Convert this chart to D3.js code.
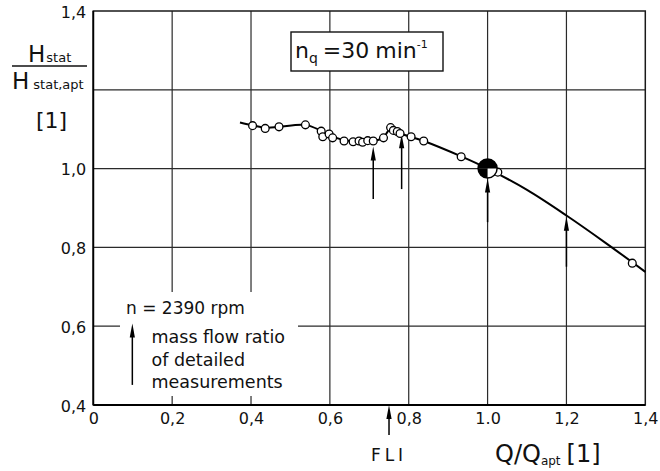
<!DOCTYPE html>
<html><head><meta charset="utf-8">
<script src="https://cdn.jsdelivr.net/npm/d3@7"></script>
<style>
html,body{margin:0;padding:0;background:#fff;}
svg{display:block;font-family:"DejaVu Sans",sans-serif;}
</style></head><body>
<svg id="chart" width="660" height="471"></svg>
<script>
// ---- data ----
const measuredQ = [0.404,0.436,0.471,0.538,0.578,0.582,0.598,0.607,0.636,0.659,0.674,0.683,0.696,0.710,0.736,0.754,0.761,0.771,0.778,0.806,0.838,0.933,1.026,1.367];
const measuredH = [1.109,1.102,1.106,1.111,1.095,1.081,1.088,1.078,1.070,1.068,1.070,1.067,1.071,1.070,1.078,1.104,1.097,1.094,1.089,1.081,1.070,1.030,0.991,0.760];
const curveQ = [0.372,0.404,0.44,0.471,0.538,0.58,0.61,0.65,0.70,0.735,0.752,0.765,0.78,0.838,0.933,1.0,1.1,1.2,1.3,1.4];
const curveH = [1.117,1.110,1.104,1.106,1.111,1.095,1.080,1.070,1.069,1.078,1.100,1.097,1.089,1.070,1.031,1.0,0.946,0.881,0.811,0.738];
const optimumQ = [1.0];
const optimumH = [1.0];
const arrowQ = [0.710, 0.782, 1.0, 1.2];
const arrowTipH = [1.056, 1.087, 0.975, 0.878];
const arrowTailH = [0.923, 0.948, 0.864, 0.751];
const fliQ = 0.750, fliTipH = 0.4, fliTailH = 0.324;
const legendArrowQ = 0.099, legendTipH = 0.607, legendTailH = 0.451;
const xTicks = [0,0.2,0.4,0.6,0.8,1.0,1.2,1.4];
const xTickLabels = ["0","0,2","0,4","0,6","0,8","1.0","1,2","1,4"];
const yTicks = [0.4,0.6,0.8,1.0,1.2,1.4];
const yTickLabels = ["0,4","0,6","0,8","1,0","","1,4"];

// ---- scales ----
const svg = d3.select("#chart");
const x = d3.scaleLinear().domain([0,1.4]).range([93.3,645.3]);
const y = d3.scaleLinear().domain([0.4,1.4]).range([405,11]);

// grid
const grid = svg.append("g").attr("stroke","#2a2a2a").attr("stroke-width",1.2);
grid.selectAll("line.v").data(xTicks.slice(1,-1)).join("line")
  .attr("x1",d=>x(d)).attr("x2",d=>x(d)).attr("y1",y(0.4)).attr("y2",y(1.4));
grid.selectAll("line.h").data(yTicks.slice(1,-1)).join("line")
  .attr("x1",x(0)).attr("x2",x(1.4)).attr("y1",d=>y(d)).attr("y2",d=>y(d));
// frame
svg.append("rect").attr("x",x(0)).attr("y",y(1.4)).attr("width",x(1.4)-x(0)).attr("height",y(0.4)-y(1.4))
  .attr("fill","none").attr("stroke","#1a1a1a").attr("stroke-width",1.5);
svg.append("line").attr("x1",x(0)).attr("x2",x(1.4)).attr("y1",y(0.4)).attr("y2",y(0.4)).attr("stroke","#000").attr("stroke-width",2);
svg.append("line").attr("x1",x(0)).attr("x2",x(0)).attr("y1",y(0.4)).attr("y2",y(1.4)).attr("stroke","#000").attr("stroke-width",1.8);

// legend mask (white area behind legend text)
svg.append("rect").attr("x",120).attr("y",292).attr("width",178).attr("height",104).attr("fill","#fff");

// axes labels via d3 axes
const xAxis = d3.axisBottom(x).tickValues(xTicks).tickFormat((d,i)=>xTickLabels[i]).tickSize(0).tickPadding(7.5);
const gx = svg.append("g").attr("transform",`translate(0,${y(0.4)})`).call(xAxis);
gx.select(".domain").remove();
gx.selectAll("text").attr("font-size",16).attr("font-family","DejaVu Sans").attr("fill","#111");
const yAxis = d3.axisLeft(y).tickValues(yTicks).tickFormat((d,i)=>yTickLabels[i]).tickSize(0).tickPadding(7);
const gy = svg.append("g").attr("transform",`translate(${x(0)},0)`).call(yAxis);
gy.select(".domain").remove();
gy.selectAll("text").attr("font-size",16).attr("font-family","DejaVu Sans").attr("fill","#111").attr("dy","0.38em");

// curve
const line = d3.line().x((d,i)=>x(curveQ[i])).y((d,i)=>y(curveH[i])).curve(d3.curveCatmullRom.alpha(0.5));
svg.append("path").attr("d",line(curveQ)).attr("fill","none").attr("stroke","#000").attr("stroke-width",2);

// arrows
function arrow(q, tipH, tailH){
  const px = x(q), ty = y(tipH), by = y(tailH);
  const hl = 14, hw = 2.6;
  svg.append("line").attr("x1",px).attr("x2",px).attr("y1",ty+hl-2).attr("y2",by).attr("stroke","#000").attr("stroke-width",1.5);
  svg.append("path").attr("d",`M${px},${ty} L${px+hw},${ty+hl} L${px-hw},${ty+hl} Z`).attr("fill","#000");
}
arrowQ.forEach((q,i)=>arrow(q,arrowTipH[i],arrowTailH[i]));
arrow(fliQ,fliTipH,fliTailH);
arrow(legendArrowQ,legendTipH,legendTailH);

// measured points
svg.append("g").selectAll("circle").data(measuredQ).join("circle")
  .attr("cx",d=>x(d)).attr("cy",(d,i)=>y(measuredH[i])).attr("r",3.9)
  .attr("fill","#fff").attr("stroke","#000").attr("stroke-width",1.3);

// optimum point symbol
optimumQ.forEach((q,i)=>{
  const cx = x(q), cy = y(optimumH[i]), r = 9.5;
  const g = svg.append("g").attr("transform",`translate(${cx},${cy})`);
  g.append("circle").attr("r",r).attr("fill","#fff").attr("stroke","#000").attr("stroke-width",1.5);
  const arc = d3.arc().innerRadius(0).outerRadius(r);
  [[-Math.PI/2,Math.PI/2],[Math.PI, 3*Math.PI/2]].forEach(a=>{
    g.append("path").attr("d",arc({startAngle:a[0],endAngle:a[1]})).attr("fill","#000");
  });
  // top-left quarter too
  g.append("path").attr("d",arc({startAngle:-Math.PI/2,endAngle:0})).attr("fill","#000");
});

// n_q box
svg.append("rect").attr("x",291).attr("y",32).attr("width",152).attr("height",39)
  .attr("fill","#fff").attr("stroke","#111").attr("stroke-width",1.4);
const nq = svg.append("text").attr("x",295).attr("y",58).attr("font-size",22).attr("fill","#111");
nq.append("tspan").text("n");
nq.append("tspan").attr("font-size",14).attr("dy",5).text("q");
nq.append("tspan").attr("dy",-5).attr("dx",5).text("=30");
nq.append("tspan").attr("dx",6).text("min");
nq.append("tspan").attr("font-size",11).attr("dy",-10).text("-1");

// y-axis title
const t1 = svg.append("text").attr("x",28).attr("y",62).attr("font-size",23).attr("fill","#111");
t1.append("tspan").text("H");
t1.append("tspan").attr("font-size",13).attr("dx",1).text("stat");
svg.append("line").attr("x1",12).attr("x2",87).attr("y1",66).attr("y2",66).attr("stroke","#111").attr("stroke-width",1.6);
const t2 = svg.append("text").attr("x",12).attr("y",89).attr("font-size",23).attr("fill","#111");
t2.append("tspan").text("H");
t2.append("tspan").attr("font-size",13).attr("dx",4).text("stat,apt");
svg.append("text").attr("x",36).attr("y",128).attr("font-size",22).attr("fill","#111").text("[1]");

// x-axis title
const xt = svg.append("text").attr("x",495).attr("y",462).attr("font-size",24).attr("fill","#111");
xt.append("tspan").text("Q/Q");
xt.append("tspan").attr("font-size",12).attr("dy",3).text("apt");
xt.append("tspan").attr("dy",-3).attr("dx",6).text("[1]");

// FLI label
svg.append("text").attr("x",x(fliQ)).attr("y",461).attr("text-anchor","middle").attr("font-size",17)
  .attr("letter-spacing",4).attr("fill","#111").text("FLI");

// legend text
svg.append("text").attr("x",126).attr("y",314).attr("font-size",17).attr("fill","#111").text("n = 2390 rpm");
const legendLines = ["mass flow ratio","of detailed","measurements"];
svg.append("g").selectAll("text").data(legendLines).join("text")
  .attr("x",151.5).attr("y",(d,i)=>342.7+i*22.8).attr("font-size",17.5).attr("fill","#111").text(d=>d);
</script>
</body></html>
